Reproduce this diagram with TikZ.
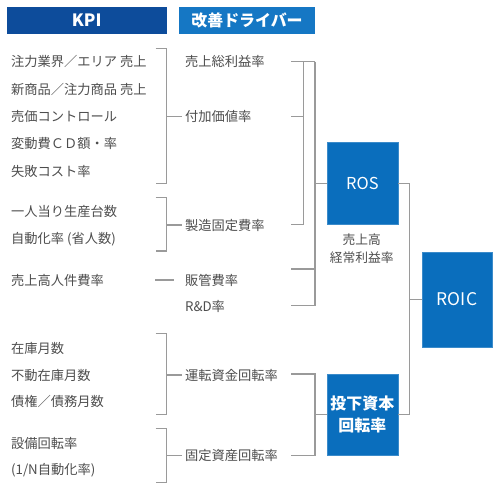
\documentclass[tikz,border=0pt]{standalone}
\usepackage{fontspec}
\setmainfont{Noto Sans CJK JP}
\definecolor{hdrdark}{HTML}{0D4C9B}
\definecolor{hdrlight}{HTML}{1577C4}
\definecolor{boxblue}{HTML}{0A6EBD}
\definecolor{txtgray}{HTML}{4D4D4D}
\definecolor{lngray}{HTML}{9A9A9A}
\tikzset{
  kpi/.style={anchor=west,inner sep=0pt,text=txtgray,font=\fontsize{13.3}{15}\selectfont},
  drv/.style={anchor=west,inner sep=0pt,text=txtgray,font=\fontsize{13.3}{15}\selectfont},
  hdr/.style={inner sep=0pt,text=white,font=\bfseries\fontsize{16}{18}\selectfont},
  bluebox/.style={fill=boxblue,draw=boxblue!80!white,inner sep=0pt,text=white,align=center},
  ln/.style={draw=lngray,line width=1.1pt},
}
\begin{document}
\begin{tikzpicture}[x=1bp,y=-1bp]
\useasboundingbox (0,0) rectangle (497,493);
% headers
\fill[hdrdark] (6.7,6.7) rectangle (166.7,34.3);
\node[hdr,font=\bfseries\fontsize{17}{18}\selectfont] (hkpi) at (86.7,20.5) {KPI};
\fill[hdrlight] (179,7.3) rectangle (315,34.3);
\node[hdr] (hdrv) at (247,20.8) {改善ドライバー};
% KPI texts
\node[kpi] (k1) at (11,61.7) {注力業界／エリア 売上};
\node[kpi] (k2) at (11,89.3) {新商品／注力商品 売上};
\node[kpi] (k3) at (11,116.7) {売価コントロール};
\node[kpi] (k4) at (11,143.3) {変動費ＣＤ額・率};
\node[kpi] (k5) at (11,171.7) {失敗コスト率};
\node[kpi] (k6) at (11,211.7) {一人当り生産台数};
\node[kpi] (k7) at (11,239) {自動化率 (省人数)};
\node[kpi] (k8) at (11,280) {売上高人件費率};
\node[kpi] (k9) at (11,348.3) {在庫月数};
\node[kpi] (k10) at (11,375) {不動在庫月数};
\node[kpi] (k11) at (11,401.7) {債権／債務月数};
\node[kpi] (k12) at (11,443.3) {設備回転率};
\node[kpi] (k13) at (11,470.7) {(1/N自動化率)};
% driver texts
\node[drv] (d1) at (185,61.7) {売上総利益率};
\node[drv] (d2) at (185,116.7) {付加価値率};
\node[drv] (d3) at (185,225) {製造固定費率};
\node[drv] (d4) at (185,280) {販管費率};
\node[drv] (d5) at (185,306.7) {R\&D率};
\node[drv] (d6) at (185,375) {運転資金回転率};
\node[drv] (d7) at (185,455.7) {固定資産回転率};
% blue boxes
\node[bluebox,minimum width=71.3bp,minimum height=81.6bp,font=\fontsize{16.5}{18}\selectfont] (ros) at (362.35,183.5) {ROS};
\node[bluebox,minimum width=71.3bp,minimum height=81.3bp,font=\bfseries\fontsize{16}{22}\selectfont] (tk) at (362.35,414.65) {投下資本\\回転率};
\node[bluebox,minimum width=70.6bp,minimum height=95.3bp,font=\fontsize{17.5}{19}\selectfont] (roic) at (457,299.35) {ROIC};
\node[inner sep=0pt,text=txtgray,align=center,font=\fontsize{12.8}{18}\selectfont] (roslbl) at (361.7,249) {売上高\\経常利益率};
% left brackets
\coordinate (b1t) at (155.7,48.3);
\coordinate (b1b) at (155.7,183.3);
\draw[ln] (b1t) -- (166.7,48.3) -- (166.7,183.3) -- (b1b);
\draw[ln] (166.7,116.7) -- ([xshift=-3bp]d2.west);
\coordinate (b2t) at (155.7,197.7);
\coordinate (b2b) at (155.7,251);
\draw[ln] (b2t) -- (166.7,197.7) -- (166.7,251) -- (b2b);
\draw[ln] (166.7,225) -- ([xshift=-3bp]d3.west);
\draw[ln] ([xshift=144bp]k8.west) -- ([xshift=-11bp]d4.west);
\coordinate (b3t) at (155.7,333.3);
\coordinate (b3b) at (155.7,414.3);
\draw[ln] (b3t) -- (166.7,333.3) -- (166.7,414.3) -- (b3b);
\draw[ln] (166.7,375) -- ([xshift=-3bp]d6.west);
\coordinate (b4t) at (155.7,428.3);
\coordinate (b4b) at (155.7,482.3);
\draw[ln] (b4t) -- (166.7,428.3) -- (166.7,482.3) -- (b4b);
\draw[ln] (166.7,455.7) -- ([xshift=-3bp]d7.west);
% middle brackets
\draw[ln] (291,61.7) -- (315,61.7);
\draw[ln] (303.3,61.7) -- (303.3,224.3) -- (291,224.3);
\draw[ln] (291,116.7) -- (303.3,116.7);
\draw[ln] (315,61.7) -- (315,305.7) -- (291,305.7);
\draw[ln] (291,269) -- (315,269);
\draw[ln] (315,183.5) -- (ros.west);
\draw[ln] (291,374) -- (315,374) -- (315,455.3) -- (291,455.3);
\draw[ln] (315,414.65) -- (tk.west);
% right bracket
\draw[ln] (ros.east) -- (409.3,183.5) -- (409.3,414.65) -- (tk.east);
\draw[ln] (409.3,299.35) -- (roic.west);
\end{tikzpicture}
\end{document}
